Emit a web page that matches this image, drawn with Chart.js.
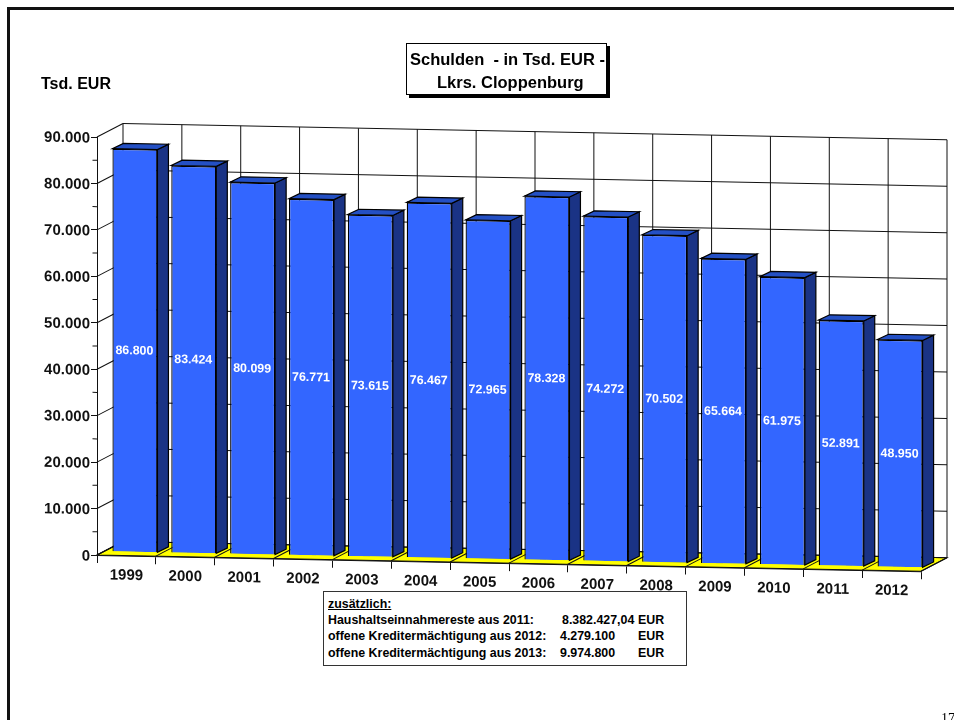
<!DOCTYPE html>
<html><head><meta charset="utf-8">
<script src="https://cdn.jsdelivr.net/npm/chart.js@4"></script>
<style>
html,body{margin:0;padding:0;background:#fff;width:954px;height:720px;overflow:hidden}
canvas{position:absolute;left:0;top:0}
.frame{position:absolute;left:7px;top:7px;width:960px;height:730px;border:3px solid #111;box-sizing:border-box}
.t{position:absolute;white-space:pre;font-family:"Liberation Sans",Arial,sans-serif;font-weight:bold;color:#000;line-height:1}
.box{position:absolute;background:#fff;box-sizing:border-box}
</style></head><body>
<div class="frame"></div>
<canvas id="c" width="954" height="720"></canvas>
<div class="t" style="left:41px;top:76px;font-size:16px">Tsd. EUR</div>
<div class="box" style="left:406px;top:43px;width:201px;height:52px;border:1px solid #000;box-shadow:3px 3px 0 #000"></div>
<div class="t" style="left:410px;top:51px;font-size:16.5px">Schulden  - in Tsd. EUR -</div>
<div class="t" style="left:437px;top:74px;font-size:16.5px">Lkrs. Cloppenburg</div>
<div class="box" style="left:323px;top:591px;width:364px;height:75px;border:1px solid #333"></div>
<div class="t" style="left:328px;top:598px;font-size:12.4px;text-decoration:underline">zusätzlich:</div>
<div class="t" style="left:328px;top:614px;font-size:12.4px">Haushaltseinnahmereste aus 2011:</div>
<div class="t" style="left:328px;top:630px;font-size:12.4px">offene Kreditermächtigung aus 2012:</div>
<div class="t" style="left:328px;top:647px;font-size:12.4px">offene Kreditermächtigung aus 2013:</div>
<div class="t" style="left:562px;top:614px;font-size:12.4px">8.382.427,04</div>
<div class="t" style="left:560px;top:630px;font-size:12.4px">4.279.100</div>
<div class="t" style="left:560px;top:647px;font-size:12.4px">9.974.800</div>
<div class="t" style="left:638px;top:614px;font-size:12.4px">EUR</div>
<div class="t" style="left:638px;top:630px;font-size:12.4px">EUR</div>
<div class="t" style="left:638px;top:647px;font-size:12.4px">EUR</div>
<div class="t" style="left:941px;top:712px;font-size:14px;font-weight:normal;font-family:'Liberation Serif',serif">17</div>
<script>
const years = ['1999','2000','2001','2002','2003','2004','2005','2006','2007','2008','2009','2010','2011','2012'];
const debts = [86800,83424,80099,76771,73615,76467,72965,78328,74272,70502,65664,61975,52891,48950];
const minorTicks = [5000,15000,25000,35000,45000,55000,65000,75000,85000];
const seriesName = 'Schulden in Tsd. EUR';

const fmt = v => String(v).replace(/\B(?=(\d{3})+$)/g, '.');
const SLOPE = 0.0197, WALL = [26,-14], BAR = [8.5,-3.5], SIDE = [11,-5.5];
const line = (ctx,x1,y1,x2,y2) => { ctx.beginPath(); ctx.moveTo(x1,y1); ctx.lineTo(x2,y2); ctx.stroke(); };
const poly = (ctx,pts,fill) => {
  ctx.beginPath(); pts.forEach((p,i)=> i?ctx.lineTo(p[0],p[1]):ctx.moveTo(p[0],p[1])); ctx.closePath();
  ctx.fillStyle = fill; ctx.fill(); ctx.stroke();
};

const threeD = {
  id:'threeD',
  beforeDraw(chart){
    const {ctx,chartArea:a,scales:{x,y}} = chart;
    ctx.save();
    ctx.transform(1,SLOPE,0,1,0,-SLOPE*a.left);
    ctx.strokeStyle='#111'; ctx.lineWidth=1;
    const [dx,dy]=WALL, step=a.width/years.length;
    poly(ctx,[[a.left,a.bottom],[a.right,a.bottom],[a.right+dx,a.bottom+dy],[a.left+dx,a.bottom+dy]],'#FFFF00');
    y.ticks.forEach(t=>{
      const py=y.getPixelForValue(t.value);
      line(ctx,a.left,py,a.left+dx,py+dy);
      line(ctx,a.left+dx,py+dy,a.right+dx,py+dy);
    });
    for(let i=0;i<=years.length;i++){
      const px=x.getPixelForValue(0)-step/2+i*step;
      line(ctx,px,a.bottom,px+dx,a.bottom+dy);
      line(ctx,px+dx,a.bottom+dy,px+dx,a.top+dy);
    }
    minorTicks.forEach(v=>{const py=y.getPixelForValue(v); line(ctx,a.left-4.5,py,a.left,py);});
  },
  beforeDatasetsDraw(chart){
    chart.ctx.save();
    chart.ctx.translate(BAR[0],BAR[1]);
  },
  afterDatasetsDraw(chart){
    const ctx=chart.ctx, [dx,dy]=SIDE;
    ctx.strokeStyle='#000'; ctx.lineWidth=1.2;
    chart.getDatasetMeta(0).data.forEach((el,i)=>{
      const l=el.x-el.width/2, r=el.x+el.width/2, t=el.y, b=el.base;
      poly(ctx,[[r,t],[r+dx,t+dy],[r+dx,b+dy],[r,b]],'#1A3385');
      poly(ctx,[[l,t],[r,t],[r+dx,t+dy],[l+dx,t+dy]],'#2450C4');
      ctx.fillStyle='#fff'; ctx.font='bold 12.4px "Liberation Sans"';
      ctx.textAlign='center'; ctx.textBaseline='middle';
      ctx.fillText(fmt(debts[i]),el.x-0.5,(t+b)/2+0.5);
    });
    ctx.restore();
  },
  afterDraw(chart){ chart.ctx.restore(); }
};

Chart.defaults.font.family='"Liberation Sans"';
new Chart(document.getElementById('c'),{
  type:'bar',
  data:{labels:years,datasets:[{label:seriesName,data:debts,backgroundColor:'#3366FF',borderColor:'#000',borderWidth:1.3,clip:false,barPercentage:0.765,categoryPercentage:1}]},
  options:{
    responsive:false,animation:false,
    layout:{padding:{top:137,right:33,left:0,bottom:0}},
    plugins:{legend:{display:false},tooltip:{enabled:false},title:{display:false}},
    scales:{
      x:{afterFit:s=>{s.height=165;},
        grid:{drawOnChartArea:false,tickLength:8,color:'#111'},border:{color:'#111'},
        ticks:{color:'#111',padding:3,maxRotation:0,autoSkip:false,font:{size:15,weight:'bold'}}},
      y:{min:0,max:90000,afterFit:s=>{s.width=97;},
        grid:{drawOnChartArea:false,tickLength:6,color:'#111'},border:{color:'#111'},
        ticks:{stepSize:10000,color:'#111',padding:1,labelOffset:1.6,font:{size:15,weight:'bold'},callback:v=>fmt(v)}}
    }
  },
  plugins:[threeD]
});
</script>
</body></html>
